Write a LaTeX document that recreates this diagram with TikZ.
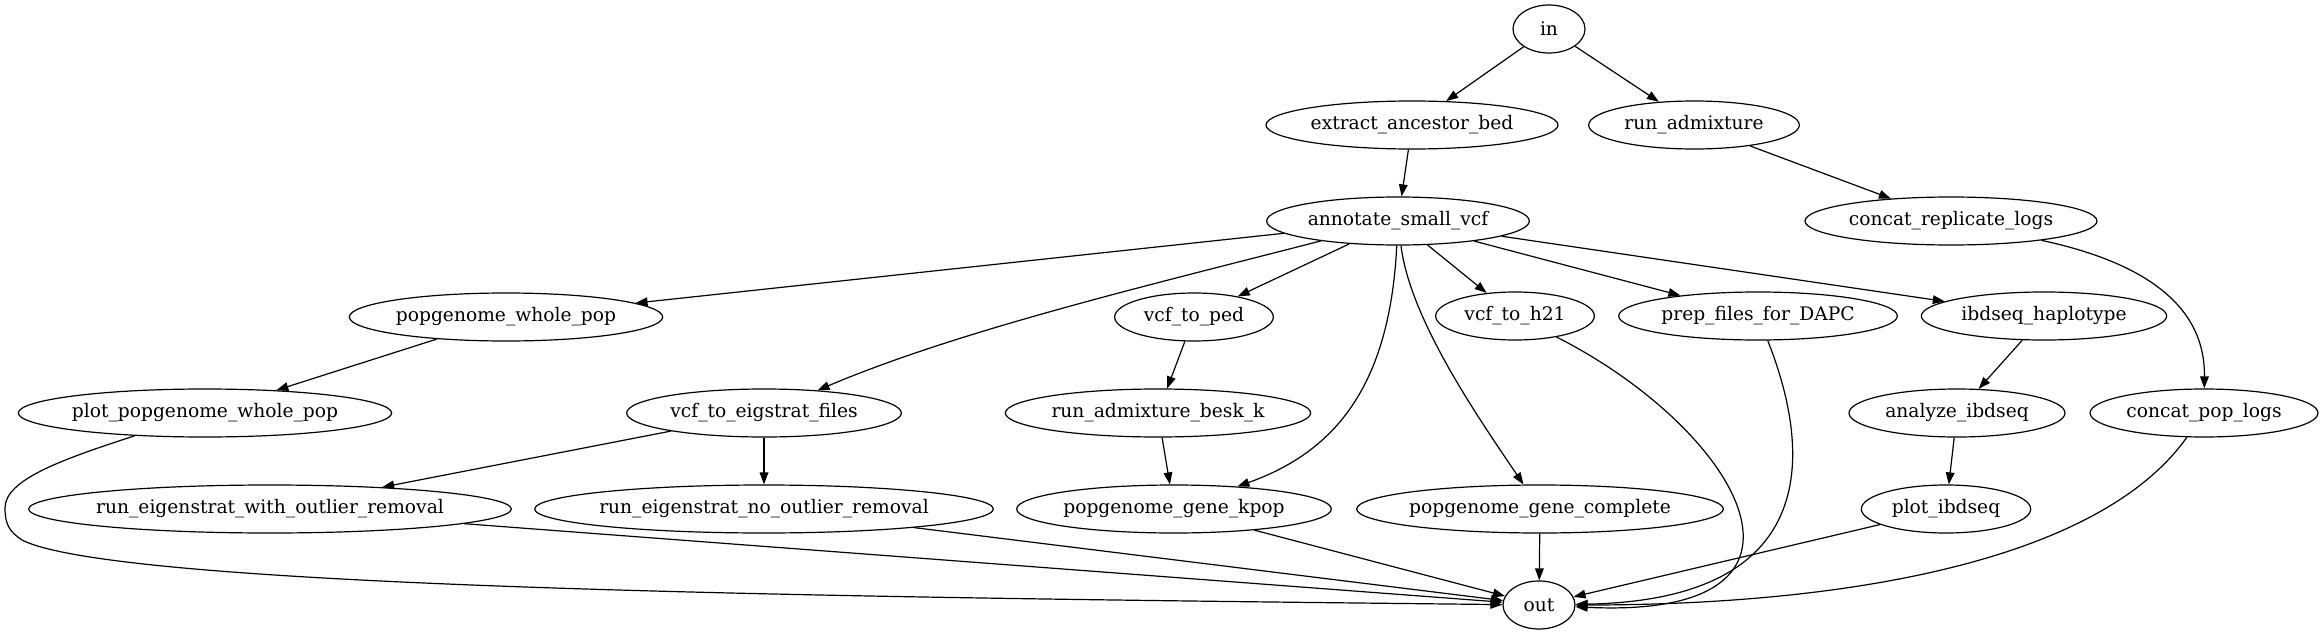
\documentclass[tikz,border=0pt]{standalone}
\usepackage{fontspec}
\setmainfont{DejaVu Serif}
\usetikzlibrary{shapes.geometric,arrows.meta}

\begin{document}
\begin{tikzpicture}[x=0.75pt, y=-0.75pt, line width=0.9pt, every node/.style={ellipse, draw, inner xsep=-4pt, minimum height=36pt, minimum width=54pt, font=\fontsize{14pt}{16pt}\selectfont}, >={Triangle[length=9pt,width=6.5pt]}]
  \useasboundingbox (0,0) rectangle (2324,635);
  \node (in) at (1549,29) {in};
  \node[minimum width=219pt] (extract) at (1412,125) {extract\_ancestor\_bed};
  \node[minimum width=158pt] (runadm) at (1694,125) {run\_admixture};
  \node[minimum width=197pt] (annot) at (1398,221) {annotate\_small\_vcf};
  \node[minimum width=219pt] (concatrep) at (1951,221) {concat\_replicate\_logs};
  \node[minimum width=235pt] (wholepop) at (506,317) {popgenome\_whole\_pop};
  \node[minimum width=119pt] (ped) at (1194,317) {vcf\_to\_ped};
  \node[minimum width=119pt] (h21) at (1515,316) {vcf\_to\_h21};
  \node[minimum width=209pt] (dapc) at (1758,316) {prep\_files\_for\_DAPC};
  \node[minimum width=184pt] (ibdhap) at (2044,316) {ibdseq\_haplotype};
  \node[minimum width=280pt] (plotwhole) at (205,413) {plot\_popgenome\_whole\_pop};
  \node[minimum width=206pt] (eigfiles) at (764,413) {vcf\_to\_eigstrat\_files};
  \node[minimum width=229pt] (besk) at (1158,413) {run\_admixture\_besk\_k};
  \node[minimum width=162pt] (anaibd) at (1957,413) {analyze\_ibdseq};
  \node[minimum width=171pt] (concatpop) at (2204,413) {concat\_pop\_logs};
  \node[minimum width=362pt] (eigwith) at (270,509) {run\_eigenstrat\_with\_outlier\_removal};
  \node[minimum width=344pt] (eigno) at (764,509) {run\_eigenstrat\_no\_outlier\_removal};
  \node[minimum width=236pt] (kpop) at (1174,509) {popgenome\_gene\_kpop};
  \node[minimum width=275pt] (complete) at (1540,509) {popgenome\_gene\_complete};
  \node[minimum width=127pt] (plotibd) at (1946,509) {plot\_ibdseq};
  \node (out) at (1539,605) {out};

  \draw[->] (in) -- (extract);
  \draw[->] (in) -- (runadm);
  \draw[->] (extract) -- (annot);
  \draw[->] (runadm) -- (concatrep);
  \draw[->] (annot) -- (wholepop);
  \draw[->] (annot) .. controls (1150,285) and (960,330) .. (eigfiles);
  \draw[->] (annot) -- (ped);
  \draw[->] (annot) .. controls (1390,380) and (1340,450) .. (kpop);
  \draw[->] (annot) .. controls (1410,320) and (1480,420) .. (complete);
  \draw[->] (annot) -- (h21);
  \draw[->] (annot) -- (dapc);
  \draw[->] (annot) -- (ibdhap);
  \draw[->] (concatrep) .. controls (2180,270) and (2205,330) .. (concatpop);
  \draw[->] (wholepop) -- (plotwhole);
  \draw[->] (ped) -- (besk);
  \draw[->] (besk) -- (kpop);
  \draw[->] (eigfiles) -- (eigwith);
  \draw[->] (eigfiles) -- (eigno);
  \draw[->] (ibdhap) -- (anaibd);
  \draw[->] (anaibd) -- (plotibd);
  % everything ends in out
  \draw[->] (plotwhole) .. controls (60,460) and (5,480) .. (5,508) .. controls (5,525) and (10,532) .. (22,540) .. controls (120,590) and (900,598) .. (out);
  \draw[->] (eigwith) -- (out);
  \draw[->] (eigno) -- (out);
  \draw[->] (kpop) -- (out);
  \draw[->] (complete) -- (out);
  \draw[->] (plotibd) -- (out);
  \draw[->] (h21) .. controls (1740,430) and (1850,620) .. (out);
  \draw[->] (dapc) .. controls (1815,460) and (1815,600) .. (out);
  \draw[->] (concatpop) .. controls (2100,560) and (1850,605) .. (out);
\end{tikzpicture}
\end{document}
